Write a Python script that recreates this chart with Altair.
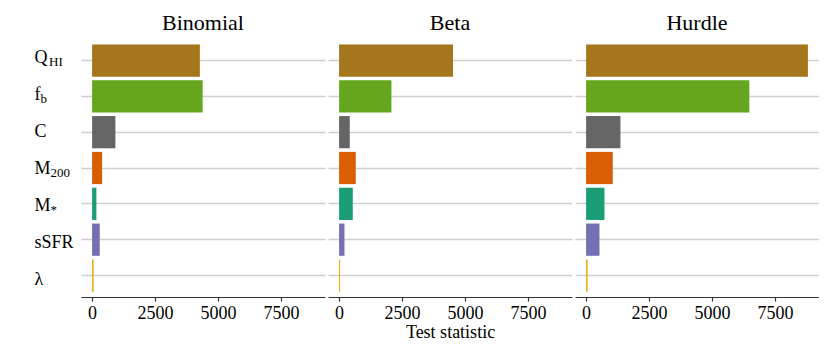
import altair as alt
import pandas as pd

# ---- data -------------------------------------------------------------
variables = ["Q_HI", "f_b", "C", "M200", "Mstar", "sSFR", "lambda"]
main_text = ["Q", "f", "C", "M", "M", "sSFR", "λ"]
sub_text = ["HI", "b", "", "200", "*", "", ""]
colors = ["#A6761D", "#66A61E", "#666666", "#D95F02", "#1B9E77", "#7570B3", "#E6AB02"]
models = ["Binomial", "Beta", "Hurdle"]
binomial = [4280, 4390, 925, 397, 171, 305, 60]
beta = [4524, 2079, 424, 662, 544, 214, 40]
hurdle = [8810, 6484, 1365, 1060, 730, 532, 60]
x_ticks = [0, 2500, 5000, 7500]

# ---- styling constants ---------------------------------------------------
FONT = "Liberation Serif"
PANEL_W = 244
PANEL_H = 258
LABEL_W = 70
MAIN_X = 26.5
SUB_X = {"Q_HI": 41, "f_b": 32.5, "M200": 42.5, "Mstar": 42.5}

rows = []
for m, vals in zip(models, [binomial, beta, hurdle]):
    for v, val in zip(variables, vals):
        rows.append({"model": m, "var": v, "value": val})
df = pd.DataFrame(rows)

lab_df = pd.DataFrame({"var": variables, "main": main_text, "sub": sub_text})

vmax = max(binomial + beta + hurdle)
xdom = [-0.05 * vmax, 1.05 * vmax]

yscale = alt.Scale(domain=variables, paddingInner=0.1, paddingOuter=0.15)


def panel(model, xtitle):
    return (
        alt.Chart(df)
        .transform_filter(alt.datum.model == model)
        .mark_bar()
        .encode(
            x=alt.X(
                "value:Q",
                scale=alt.Scale(domain=xdom, nice=False, zero=False),
                axis=alt.Axis(
                    values=x_ticks,
                    format="d",
                    grid=False,
                    title=xtitle if xtitle else None,
                    domainColor="#333333",
                    domainWidth=1.2,
                    tickColor="#333333",
                    tickSize=4,
                    tickWidth=1.2,
                    labelFont=FONT,
                    labelFontSize=18,
                    labelColor="black",
                    labelPadding=3,
                    titleFont=FONT,
                    titleFontSize=18,
                    titleFontWeight="normal",
                    titleColor="black",
                    titlePadding=1,
                ),
            ),
            y=alt.Y(
                "var:N",
                sort=variables,
                scale=yscale,
                axis=alt.Axis(
                    labels=False,
                    ticks=False,
                    domain=False,
                    grid=True,
                    gridColor="#cfcfcf",
                    gridWidth=1.6,
                    bandPosition=0.5,
                    title=None,
                ),
            ),
            color=alt.Color(
                "var:N", scale=alt.Scale(domain=variables, range=colors), legend=None
            ),
        )
        .properties(
            width=PANEL_W,
            height=PANEL_H,
            title=alt.TitleParams(
                model,
                font=FONT,
                fontSize=22,
                fontWeight="normal",
                color="black",
                offset=4,
                anchor="middle",
            ),
        )
    )


label_base = alt.Chart(lab_df)
main_layer = label_base.mark_text(
    align="left", baseline="alphabetic", font=FONT, fontSize=18, dy=6, color="black"
).encode(
    y=alt.Y("var:N", sort=variables, scale=yscale, axis=None),
    x=alt.value(MAIN_X),
    text="main:N",
)
sub_layers = []
for key, sx in SUB_X.items():
    sub_layers.append(
        label_base.transform_filter(alt.datum["var"] == key)
        .mark_text(
            align="left", baseline="alphabetic", font=FONT, fontSize=13, dy=9, color="black"
        )
        .encode(
            y=alt.Y("var:N", sort=variables, scale=yscale, axis=None),
            x=alt.value(sx),
            text="sub:N",
        )
    )
labels = alt.layer(main_layer, *sub_layers).properties(width=LABEL_W, height=PANEL_H)

chart = (
    alt.hconcat(
        labels,
        panel("Binomial", None),
        panel("Beta", "Test statistic"),
        panel("Hurdle", None),
        spacing=3,
        bounds="flush",
    )
    .configure_view(stroke=None)
    .configure_axis(labelFont=FONT, titleFont=FONT)
    .configure_title(font=FONT, fontSize=22, fontWeight="normal", color="black")
    .properties(padding={"left": 0, "top": 4, "right": 0, "bottom": 0})
)

chart.save("out.html", embed_options={"renderer": "svg", "actions": False})
